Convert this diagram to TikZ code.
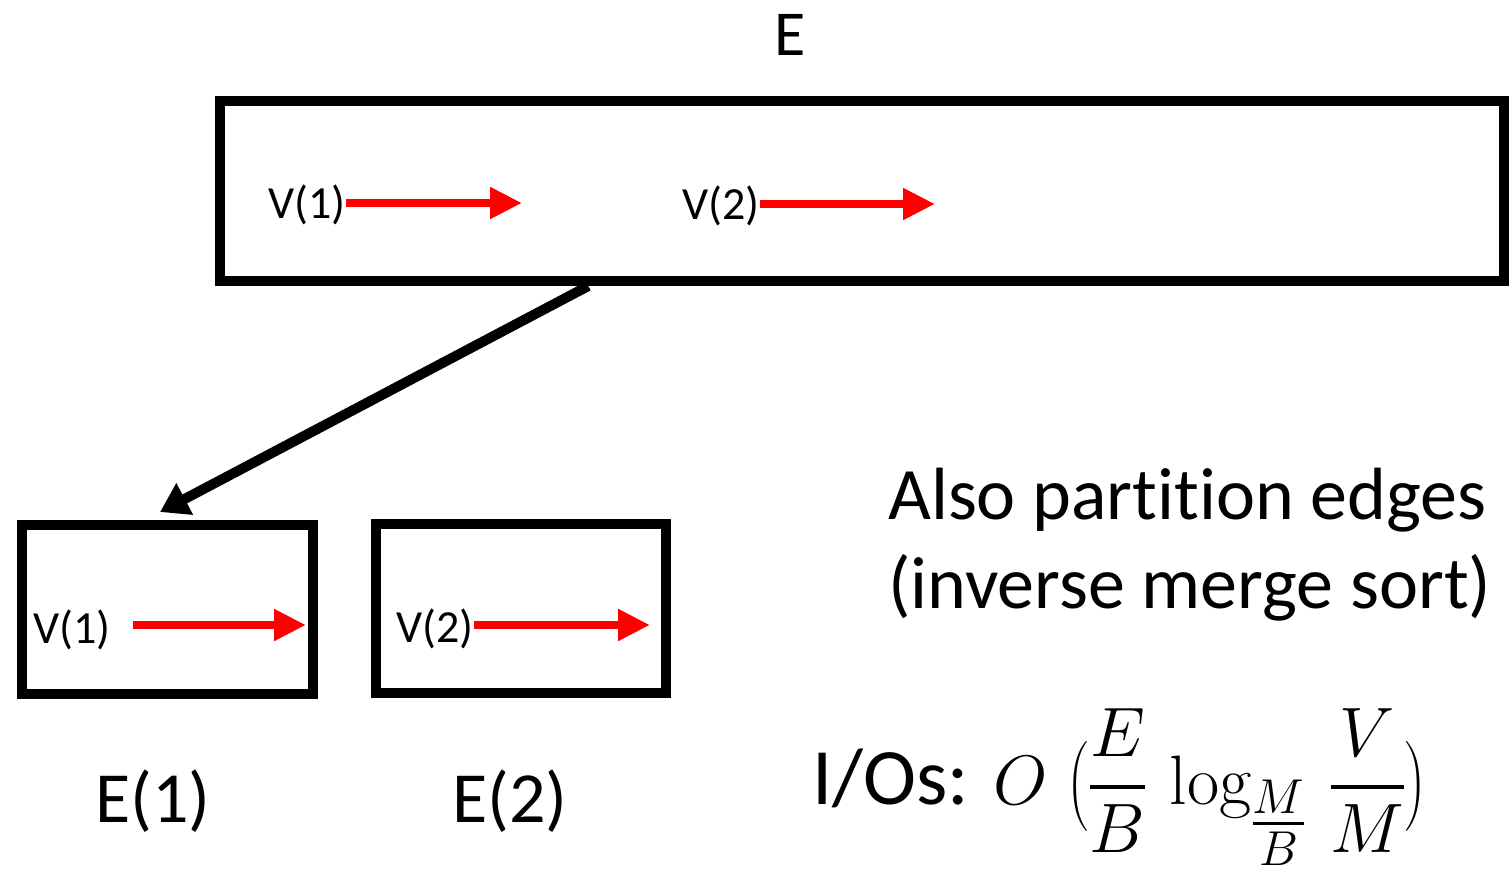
\RequirePackage{fix-cm}
\documentclass[tikz,border=0pt]{standalone}
\usepackage{amsmath}
\usepackage{fontspec}
\setmainfont{Carlito}[Ligatures=NoCommon,Contextuals=NoAlternate]
\setmathrm{Latin Modern Roman}
\usetikzlibrary{arrows.meta,calc}
\tikzset{
  box/.style={draw=black, line width=10pt, rectangle, inner sep=0pt},
  vlab/.style={inner sep=0pt, anchor=base west, font=\fontsize{46}{55}\selectfont},
  redarrow/.style={draw=red, line width=8pt, -{Triangle[length=32pt,width=30pt]}},
  bigarrow/.style={draw=black, line width=10pt, -{Triangle[length=28pt,width=34pt]}},
  lbl/.style={inner sep=0pt, anchor=base, font=\fontsize{72}{86}\selectfont}
}
\newcommand{\thfrac}[2]{\genfrac{}{}{4pt}{0}{#1}{#2}}
\newcommand{\thsub}[2]{\genfrac{}{}{3pt}{1}{#1}{#2}}
\begin{document}
\begin{tikzpicture}[x=1pt,y=-1pt]
\useasboundingbox (0,0) rectangle (1509,875);
% big box
\node[box, minimum width=1284pt, minimum height=180pt] (bigE) at (862,191) {};
\node[lbl, font=\fontsize{64}{76}\selectfont] (Elab) at (790,56) {E};
\node[vlab] (v1) at (268,218) {V(1)};
\coordinate (v1t) at (522,203);
\draw[redarrow] (v1.east |- v1t) -- (v1t);
\node[vlab] (v2) at (682,219) {V(2)};
\coordinate (v2t) at (935,204);
\draw[redarrow] (v2.east |- v2t) -- (v2t);
% small boxes
\node[box, minimum width=291pt, minimum height=169pt] (e1) at (167.5,609.5) {};
\node[box, minimum width=290pt, minimum height=169pt] (e2) at (521,608.5) {};
\node[vlab] (w1) at (33,643) {V(1)};
\coordinate (w1s) at (133,625);
\coordinate (w1t) at (306,625);
\draw[redarrow] (w1s) -- (w1t);
\node[vlab] (w2) at (396,642) {V(2)};
\coordinate (w2t) at (650,625);
\draw[redarrow] (w2.east |- w2t) -- (w2t);
% connector
\coordinate (src) at ($(bigE.south west)!0.2885!(bigE.south east)$);
\coordinate (dst) at (160,512);
\draw[bigarrow] (src) -- (dst);
% labels
\node[lbl] (e1lab) at (153,822) {E(1)};
\node[lbl] (e2lab) at (510,822) {E(2)};
\node[inner sep=0pt, anchor=base west, font=\fontsize{74}{89}\selectfont, align=left] (note) at (888,608)
  {Also partition edges\\(inverse merge sort)};
\node[inner sep=0pt, anchor=base west, font=\fontsize{80}{90}\selectfont] (io) at (812,804)
  {I/Os: {\fontsize{70}{84}\selectfont$O\;\bigl(\thfrac{E}{B}\,\log_{\thsub{M}{B}}\,\thfrac{V}{M}\bigr)$}};
\end{tikzpicture}
\end{document}
